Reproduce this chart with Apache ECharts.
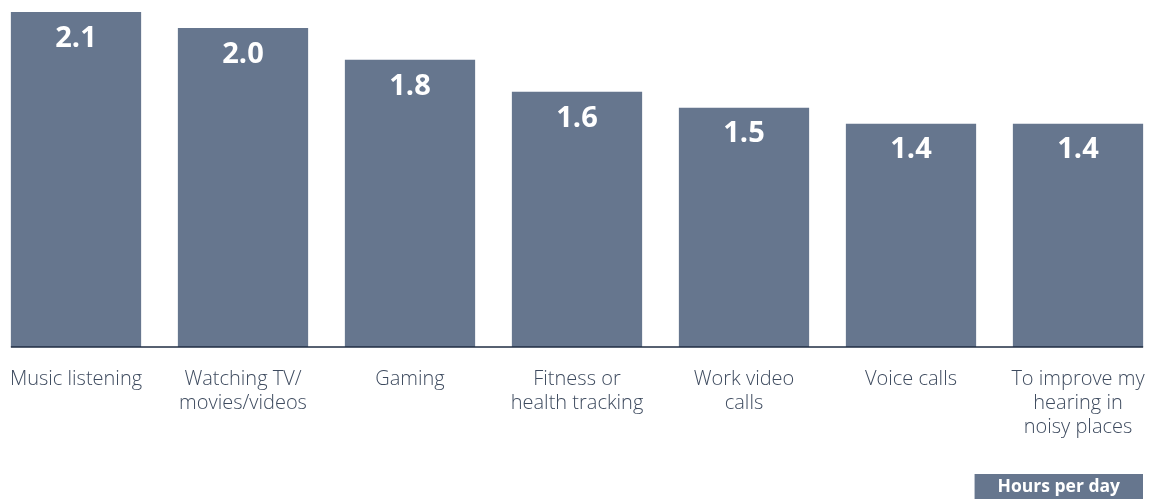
<!DOCTYPE html>
<html>
<head>
<meta charset="utf-8">
<script src="https://cdn.jsdelivr.net/npm/echarts@6/dist/echarts.min.js"></script>
<style>
  html, body { margin: 0; padding: 0; background: #ffffff; }
  #chart { width: 1151px; height: 499px; }
</style>
</head>
<body>
<div id="chart"></div>
<script>
// Daily usage by activity
const categories = [
  'Music listening',
  'Watching TV/\nmovies/videos',
  'Gaming',
  'Fitness or\nhealth tracking',
  'Work video\ncalls',
  'Voice calls',
  'To improve my\nhearing in\nnoisy places'
];
const hoursPerDay = [2.1, 2.0, 1.8, 1.6, 1.5, 1.4, 1.4];
const seriesName = 'Hours per day';

const barColor = '#66768e';
const textColor = '#3e4b5f';
const axisColor = '#1f2c42';
const fontFamily = '"Open Sans", Lato, sans-serif';

const chart = echarts.init(document.getElementById('chart'), null, { renderer: 'canvas' });

chart.setOption({
  animation: false,
  backgroundColor: '#ffffff',
  title: {
    text: seriesName,
    right: 8,
    bottom: 0,
    backgroundColor: barColor,
    padding: [4, 23, 3, 23],
    textStyle: {
      color: '#ffffff',
      fontFamily: fontFamily,
      fontWeight: 'bold',
      fontSize: 17.5,
      lineHeight: 18
    }
  },
  grid: {
    left: -7.5,
    right: -10.5,
    top: 12,
    bottom: 152,
    containLabel: false,
    outerBoundsMode: 'none'
  },
  xAxis: {
    type: 'category',
    data: categories,
    axisLine: { show: false },
    axisTick: { show: false },
    axisLabel: {
      color: textColor,
      fontFamily: fontFamily,
      fontWeight: 300,
      fontSize: 20,
      lineHeight: 24,
      margin: 20,
      interval: 0,
      verticalAlign: 'top'
    }
  },
  yAxis: {
    type: 'value',
    min: 0,
    max: 2.1,
    show: false,
    splitLine: { show: false }
  },
  series: [{
    name: seriesName,
    type: 'bar',
    data: hoursPerDay,
    barCategoryGap: '22%',
    itemStyle: { color: barColor },
    label: {
      show: true,
      position: 'insideTop',
      distance: 12,
      color: '#ffffff',
      fontFamily: fontFamily,
      fontWeight: 'bold',
      fontSize: 29,
      formatter: p => p.value.toFixed(1)
    }
  }]
});

// Baseline spanning from the left edge of the first bar to the right edge of the last
function drawBaseline() {
  const first = chart.convertToPixel({ seriesIndex: 0 }, [0, 0]);
  const last = chart.convertToPixel({ seriesIndex: 0 }, [categories.length - 1, 0]);
  const layout = chart.getModel().getSeriesByIndex(0).getData().getItemLayout(0);
  const half = Math.abs(layout.width) / 2;
  chart.setOption({
    graphic: [{
      type: 'line',
      silent: true,
      z: 10,
      shape: { x1: first[0] - half, y1: first[1], x2: last[0] + half, y2: last[1] },
      style: { stroke: axisColor, lineWidth: 1.5 }
    }]
  });
}
drawBaseline();
</script>
</body>
</html>
